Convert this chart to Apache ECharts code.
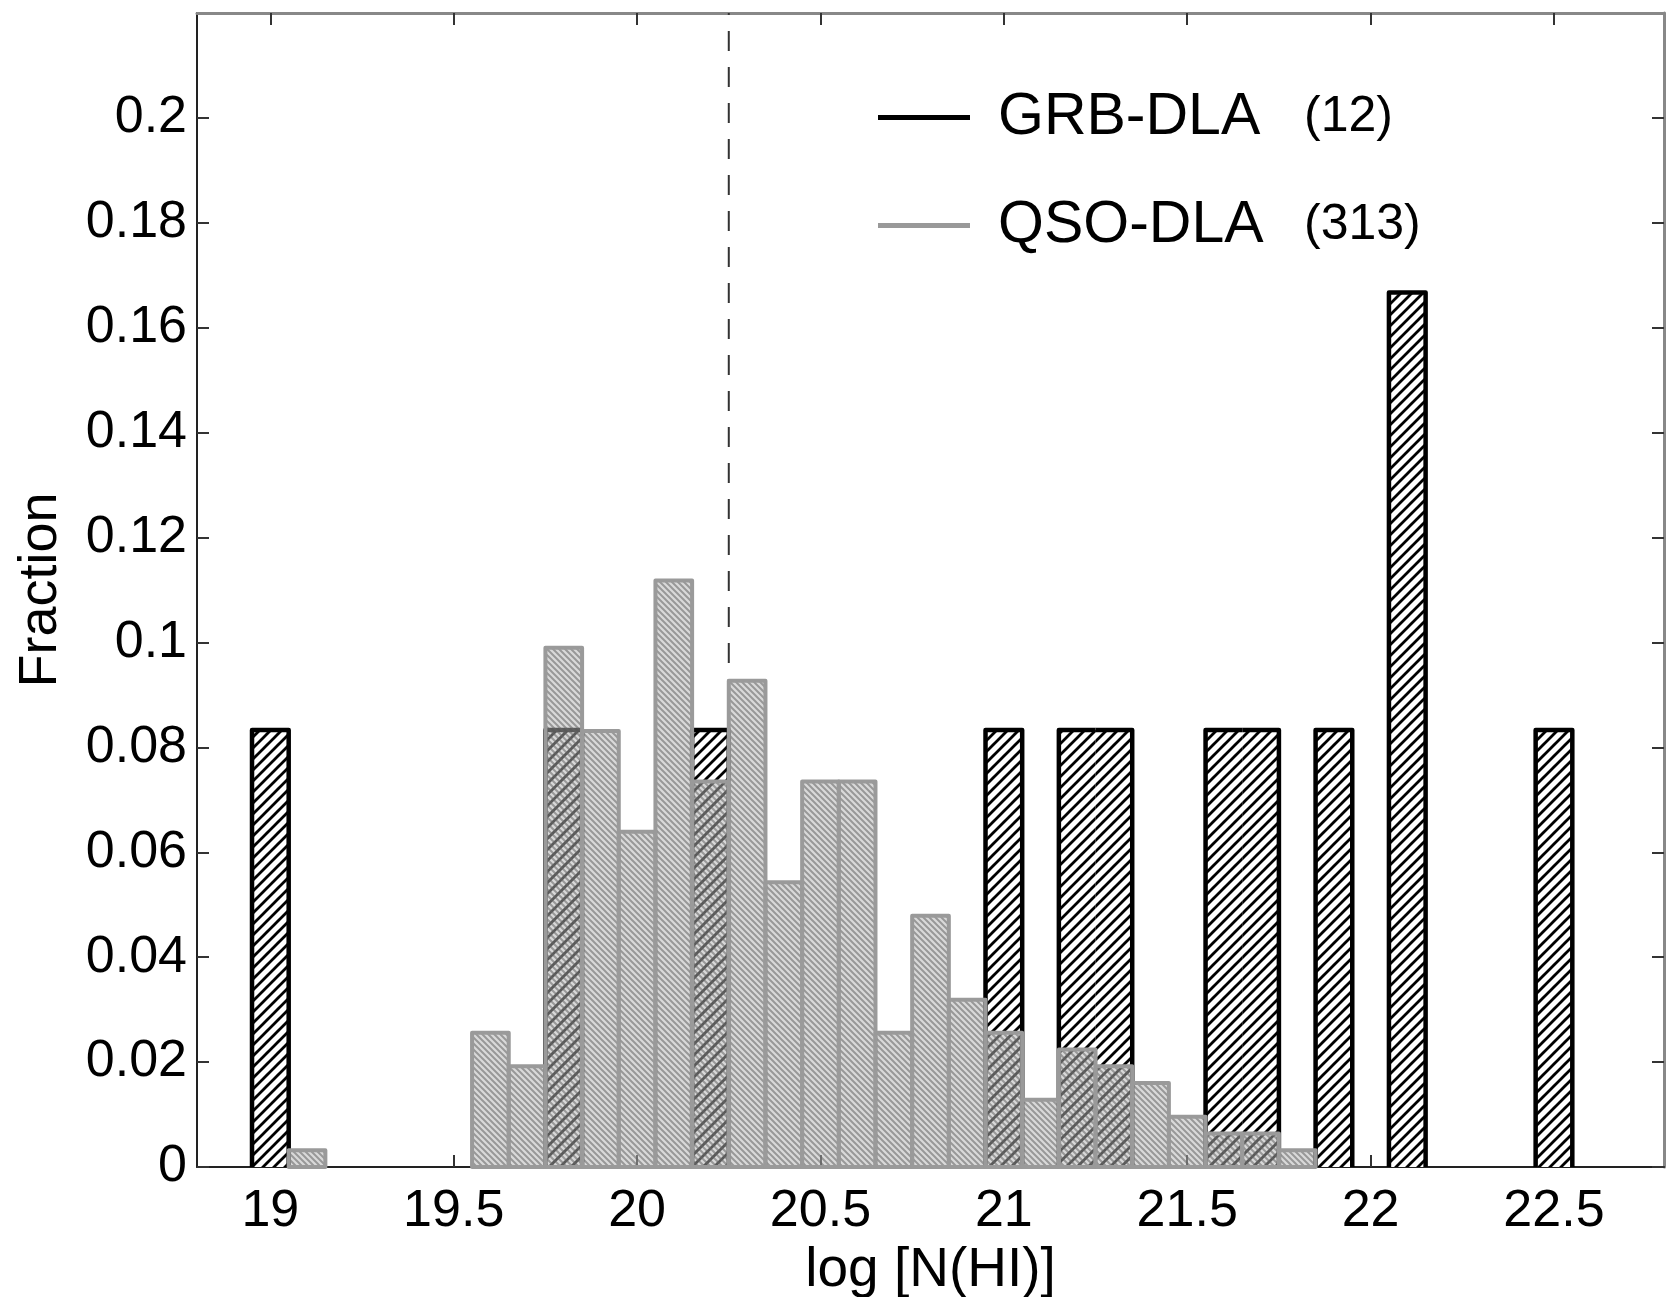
<!DOCTYPE html>
<html><head><meta charset="utf-8">
<script src="https://cdn.jsdelivr.net/npm/echarts@6/dist/echarts.min.js"></script>
<style>html,body{margin:0;padding:0;background:#fff}#chart{width:1667px;height:1297px}</style>
</head><body><div id="chart"></div>
<script>
// ---- data ----
const qsoCenters  = [19.1,19.6,19.7,19.8,19.9,20.0,20.1,20.2,20.3,20.4,20.5,20.6,20.7,20.8,20.9,21.0,21.1,21.2,21.3,21.4,21.5,21.6,21.7,21.8];
const qsoFraction = [0.0032,0.0256,0.0192,0.0990,0.0831,0.0639,0.1118,0.0735,0.0927,0.0543,0.0735,0.0735,0.0256,0.0479,0.0319,0.0256,0.0128,0.0224,0.0192,0.0160,0.0096,0.0064,0.0064,0.0032];
const grbCenters  = [19.0,19.8,20.2,21.0,21.2,21.3,21.6,21.7,21.9,22.1,22.5];
const grbFraction = [0.0833,0.0833,0.0833,0.0833,0.0833,0.0833,0.0833,0.0833,0.0833,0.1667,0.0833];
const binWidth = 0.1;
const seriesNames = ['GRB-DLA','QSO-DLA'];
const sampleSizes = [12, 313];
const xTicks = [19,19.5,20,20.5,21,21.5,22,22.5];
const yTicks = [0,0.02,0.04,0.06,0.08,0.1,0.12,0.14,0.16,0.18,0.2];
const xRange = [18.8, 22.8];
const yRange = [0, 0.22];
const dlaThreshold = 20.25;

// ---- patterns ----
function makeHatch(size, dir, lineColor, lineWidth, bg) {
  const c = document.createElement('canvas');
  c.width = size; c.height = size;
  const g = c.getContext('2d');
  if (bg) { g.fillStyle = bg; g.fillRect(0,0,size,size); }
  g.strokeStyle = lineColor; g.lineWidth = lineWidth; g.lineCap = 'square';
  g.beginPath();
  if (dir === '/') {
    for (let k = -1; k <= 1; k++) { g.moveTo(k*size - 1, size + 1); g.lineTo(k*size + size + 1, -1); }
  } else {
    for (let k = -1; k <= 1; k++) { g.moveTo(k*size - 1, -1); g.lineTo(k*size + size + 1, size + 1); }
  }
  g.stroke();
  return c;
}
const grbPattern = {image: makeHatch(11, '/', '#000', 2.8, '#fff'), repeat: 'repeat'};
const qsoPattern = {image: makeHatch(6, '\\', 'rgba(100,100,100,0.55)', 2, 'rgba(180,180,180,0.5)'), repeat: 'repeat'};

const FONT = '"Liberation Sans", Arial, Helvetica, sans-serif';

function renderQso(params, api) {
  const x = api.value(0), y = api.value(1);
  const tl = api.coord([x - binWidth/2, y]);
  const br = api.coord([x + binWidth/2, 0]);
  return {
    type: 'rect',
    shape: {x: tl[0], y: tl[1], width: br[0]-tl[0], height: br[1]-tl[1]},
    style: {fill: qsoPattern, stroke: '#9a9a9a', lineWidth: 4, lineJoin: 'round'}
  };
}
function renderGrb(params, api) {
  const x = api.value(0), y = api.value(1);
  const tl = api.coord([x - binWidth/2, y]);
  const br = api.coord([x + binWidth/2, 0]);
  const near = (a, b) => Math.abs(a - b) < 1e-6;
  const hasLeft = grbCenters.some((c, j) => near(c, x - binWidth) && near(grbFraction[j], y));
  const hasRight = grbCenters.some((c, j) => near(c, x + binWidth) && near(grbFraction[j], y));
  const pts = [];
  if (!hasLeft) pts.push([tl[0], br[1]]);
  pts.push([tl[0], tl[1]]);
  pts.push([br[0], tl[1]]);
  if (!hasRight) pts.push([br[0], br[1]]);
  return {
    type: 'group',
    children: [
      {type: 'rect', shape: {x: tl[0], y: tl[1], width: br[0]-tl[0], height: br[1]-tl[1]}, style: {fill: grbPattern}},
      {type: 'polyline', shape: {points: pts}, style: {fill: null, stroke: '#000', lineWidth: 4.5, lineJoin: 'round'}}
    ]
  };
}

const chart = echarts.init(document.getElementById('chart'), null, {renderer: 'canvas'});
const tickStyle = {color: '#333', width: 2};
chart.setOption({
  animation: false,
  backgroundColor: '#fff',
  grid: {left: 197, right: 3, top: 13, bottom: 130, containLabel: false, outerBoundsMode: 'none'},
  legend: {
    left: 873, top: 83, orient: 'vertical', itemGap: 49,
    icon: 'rect', itemWidth: 92, itemHeight: 5, selectedMode: false,
    data: [
      {name: seriesNames[0], itemStyle: {color: '#000'}},
      {name: seriesNames[1], itemStyle: {color: '#999'}}
    ],
    formatter: name => `{n|${name}}{c|(${sampleSizes[seriesNames.indexOf(name)]})}`,
    textStyle: {
      color: '#000', fontFamily: FONT,
      rich: {
        n: {fontSize: 59, width: 306, padding: [0,0,0,23], lineHeight: 70, fontFamily: FONT, color: '#000'},
        c: {fontSize: 50, lineHeight: 70, fontFamily: FONT, color: '#000'}
      }
    }
  },
  xAxis: [
    {
      type: 'value', min: xRange[0], max: xRange[1], position: 'bottom',
      axisLine: {show: true, onZero: false, lineStyle: {color: '#222', width: 2}},
      axisTick: {show: true, inside: true, length: 12, customValues: xTicks, lineStyle: tickStyle},
      axisLabel: {customValues: xTicks, fontSize: 52, color: '#000', fontFamily: FONT, margin: 19},
      splitLine: {show: false},
      name: 'log [N(HI)]', nameLocation: 'middle', nameGap: 65,
      nameTextStyle: {fontSize: 55, color: '#000', fontFamily: FONT}
    },
    {
      type: 'value', min: xRange[0], max: xRange[1], position: 'top',
      axisLine: {show: true, onZero: false, lineStyle: {color: '#888', width: 3}},
      axisTick: {show: true, inside: true, length: 12, customValues: xTicks, lineStyle: tickStyle},
      axisLabel: {show: false}, splitLine: {show: false}
    }
  ],
  yAxis: [
    {
      type: 'value', min: yRange[0], max: yRange[1], position: 'left',
      axisLine: {show: true, onZero: false, lineStyle: {color: '#222', width: 2}},
      axisTick: {show: true, inside: true, length: 12, customValues: yTicks, lineStyle: tickStyle},
      axisLabel: {customValues: yTicks, fontSize: 52, color: '#000', fontFamily: FONT, margin: 10},
      splitLine: {show: false},
      name: 'Fraction', nameLocation: 'middle', nameGap: 129, nameRotate: 90,
      nameTextStyle: {fontSize: 54, color: '#000', fontFamily: FONT}
    },
    {
      type: 'value', min: yRange[0], max: yRange[1], position: 'right',
      axisLine: {show: true, onZero: false, lineStyle: {color: '#888', width: 3}},
      axisTick: {show: true, inside: true, length: 12, customValues: yTicks, lineStyle: tickStyle},
      axisLabel: {show: false}, splitLine: {show: false}
    }
  ],
  series: [
    {
      type: 'line', name: 'threshold', z: 1, silent: true, symbol: 'none',
      data: [[dlaThreshold, yRange[0]], [dlaThreshold, yRange[1]]],
      lineStyle: {color: '#333', width: 2, type: [20, 16]}
    },
    {
      type: 'custom', name: seriesNames[0], z: 2, renderItem: renderGrb,
      itemStyle: {color: '#000'},
      data: grbCenters.map((c, i) => [c, grbFraction[i]])
    },
    {
      type: 'custom', name: seriesNames[1], z: 3, renderItem: renderQso,
      itemStyle: {color: '#999'},
      data: qsoCenters.map((c, i) => [c, qsoFraction[i]])
    }
  ]
});
</script>
</body></html>
